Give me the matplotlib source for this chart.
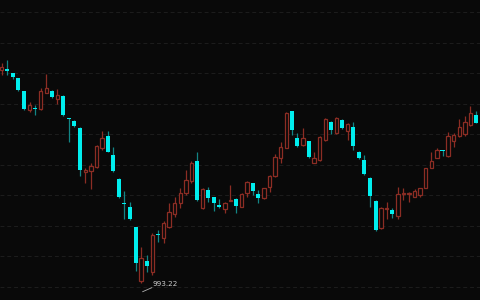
import matplotlib
matplotlib.use("Agg")
import matplotlib.pyplot as plt
import numpy as np

opens = [1206, 1206.7, 1202.7, 1197.7, 1184.7, 1166, 1168.3, 1166.7, 1183.3, 1185,
         1177, 1180.3, 1158.3, 1155.3, 1148.3, 1103.7, 1105, 1109.3, 1128, 1140.3,
         1120.8, 1097.3, 1073, 1069, 1048.8, 995, 1015, 1004, 1042.2, 1038.3,
         1049.3, 1061.8, 1073.5, 1083.5, 1094.7, 1115, 1067.7, 1086, 1078.7, 1070.8,
         1066.7, 1075.5, 1076.8, 1069.3, 1082.7, 1093, 1082.2, 1077.7, 1089, 1100.5,
         1117.7, 1128.5, 1164.7, 1137.7, 1131, 1134.7, 1113.5, 1116, 1135.7, 1154.5,
         1142.7, 1156, 1145, 1149.3, 1124.3, 1116, 1098.5, 1075.3, 1048, 1067.5,
         1066.3, 1060.5, 1082, 1082, 1079.3, 1081.5, 1088.5, 1108.5, 1118.3, 1126,
         1120.2, 1134.7, 1139.7, 1141.8, 1151, 1160.7]
closes = [1209, 1204.7, 1198.7, 1186, 1167, 1171, 1167.3, 1185, 1187.7, 1178.7,
          1181, 1161, 1157, 1150, 1106, 1106, 1110.3, 1130, 1138, 1124.3,
          1105.2, 1079, 1071.7, 1057.3, 1013, 1017.7, 1010, 1041, 1040.8, 1053.3,
          1064, 1072.7, 1083, 1096.3, 1113.5, 1075.8, 1087.3, 1078, 1073.3, 1069.3,
          1072.7, 1076.5, 1070, 1082, 1094.3, 1085, 1078.3, 1087.7, 1100, 1119.3,
          1129.3, 1163.5, 1146, 1130, 1138, 1119, 1118.5, 1139.3, 1157.3, 1146,
          1158.5, 1147.7, 1151.8, 1130.5, 1117.7, 1101.8, 1080, 1046, 1068, 1068.2,
          1061.7, 1082.5, 1082.8, 1082.7, 1085.5, 1087.7, 1108, 1115, 1126.3, 1125.3,
          1139.7, 1141, 1149.3, 1153.7, 1163.5, 1153.3]
highs = [1213, 1216, 1203.5, 1198.5, 1185.5, 1174.3, 1171, 1187.7, 1202, 1186,
         1187, 1181, 1158.5, 1156, 1149, 1107.7, 1112.7, 1131, 1145, 1145.3,
         1128.7, 1098, 1085, 1074.3, 1049.2, 1029, 1021, 1042.7, 1046, 1055.3,
         1072.7, 1079.3, 1087.7, 1106.5, 1115, 1124.3, 1088.3, 1088.7, 1079.3, 1076.7,
         1074.3, 1091.5, 1077.7, 1082.7, 1095, 1093.3, 1085.7, 1088.3, 1101, 1122.5,
         1134, 1164.3, 1165.2, 1142.7, 1148, 1135.3, 1124.3, 1140, 1158.5, 1155,
         1159.3, 1156.7, 1152.7, 1154.3, 1125, 1121, 1099.3, 1076, 1069, 1074.3,
         1067.7, 1089, 1087.7, 1084, 1086.7, 1088.5, 1108.5, 1124.3, 1127.7, 1126.5,
         1143.7, 1142.7, 1156.7, 1160, 1170, 1165]
lows = [1201, 1201, 1197, 1185, 1166, 1163.7, 1161, 1166, 1182.7, 1177.7,
        1171.7, 1160.3, 1133.7, 1149.3, 1100.3, 1092.7, 1087, 1108.5, 1126.5, 1123.7,
        1104.3, 1078.3, 1057, 1055.7, 1005.5, 993.22, 1004.3, 1001, 1034.5, 1032.7,
        1047.7, 1059.3, 1068.3, 1081, 1092.7, 1075.5, 1067, 1074.3, 1064.7, 1067.7,
        1062.7, 1075.3, 1062.7, 1068.7, 1079.3, 1081, 1072.7, 1077, 1084.3, 1099.3,
        1112.7, 1127.7, 1141, 1129, 1130.2, 1118.3, 1112.7, 1115, 1135, 1142,
        1142, 1147, 1136, 1126, 1117, 1101, 1069.3, 1045.3, 1047.5, 1057,
        1057.7, 1057, 1076, 1074, 1078.7, 1079, 1088, 1107.7, 1117.7, 1120.3,
        1119.5, 1129.3, 1139.3, 1140.5, 1150.2, 1152.7]
min_label = "993.22"

BG = "#090909"
UP = "#8c2d24"
DOWN = "#00eeee"
DOWN_WICK = "#128585"
GRID = "#1d1d1d"

o = np.array(opens); c = np.array(closes); h = np.array(highs); l = np.array(lows)
x = np.arange(len(o))
up = c >= o

fig = plt.figure(figsize=(4.8, 3.0), dpi=100, facecolor=BG)
ax = fig.add_axes([0, 0, 1, 1], facecolor=BG)
ax.set_xlim(-0.305, 85.72)
ax.set_ylim(976, 1276)

for gy in 1264 - 30.52 * np.arange(10):
    ax.axhline(gy, color=GRID, lw=0.7, ls=(0, (4, 3)), zorder=0)

ax.vlines(x[up], l[up], h[up], color=UP, lw=0.9, zorder=1)
ax.vlines(x[~up], l[~up], h[~up], color=DOWN_WICK, lw=0.9, zorder=1)

w = 0.62
bottoms = np.minimum(o, c)
heights = np.maximum(np.abs(c - o), 0.9)
ax.bar(x[up], heights[up], bottom=bottoms[up], width=w, facecolor=BG,
       edgecolor=UP, linewidth=0.9, zorder=2)
ax.bar(x[~up], heights[~up], bottom=bottoms[~up], width=w + 0.1, color=DOWN,
       linewidth=0, zorder=2)

imin = int(np.argmin(l))
ax.plot([imin + 0.27, imin + 1.9], [l[imin] - 8.9, l[imin] - 4.9], color="#b0b0b0", lw=0.6, zorder=3)
ax.text(imin + 2.0, l[imin] - 1.5, min_label, color="#cccccc", fontsize=5.2,
        va="center", ha="left", zorder=3)

ax.set_xticks([]); ax.set_yticks([])
for s in ax.spines.values():
    s.set_visible(False)

fig.savefig("out.png", dpi=100, facecolor=BG)
